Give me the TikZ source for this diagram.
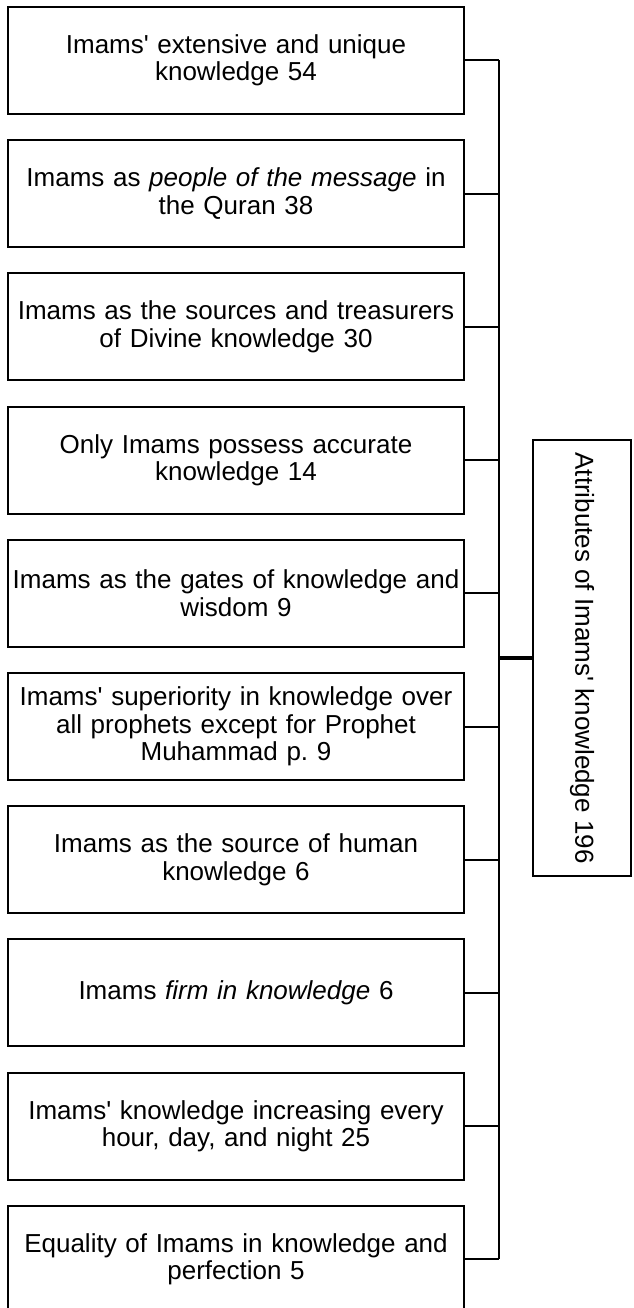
\documentclass[tikz,border=0pt]{standalone}
\usepackage{fontspec}
\newfontfamily\boxfont{Liberation Sans}
\begin{document}
\begin{tikzpicture}[x=1pt,y=-1pt,
  item/.style={draw=black, line width=2pt, minimum width=456pt, minimum height=107pt,
    text width=450pt, align=center, inner sep=0pt, anchor=north west,
    font=\boxfont\fontsize{26}{27.5}\selectfont},
  link/.style={draw=black, line width=2pt},
  mainlink/.style={draw=black, line width=3.2pt},
  rootbox/.style={draw=black, line width=2pt, rotate=-90, minimum width=436pt,
    minimum height=98pt, inner sep=0pt, font=\boxfont\fontsize{26}{27.5}\selectfont}]
\useasboundingbox (0,0) rectangle (633,1308);
\node[item] (b1) at (7,6) {Imams' extensive and unique\\knowledge 54};
\node[item] (b2) at (7,139.2) {Imams as \textit{people of the message} in\\the Quran 38};
\node[item] (b3) at (7,272.4) {Imams as the sources and treasurers\\of Divine knowledge 30};
\node[item] (b4) at (7,405.6) {Only Imams possess accurate\\knowledge 14};
\node[item] (b5) at (7,538.8) {Imams as the gates of knowledge and\\wisdom 9};
\node[item] (b6) at (7,672) {Imams' superiority in knowledge over\\all prophets except for Prophet\\Muhammad p.\ 9};
\node[item] (b7) at (7,805.2) {Imams as the source of human\\knowledge 6};
\node[item] (b8) at (7,938.4) {Imams \textit{firm in knowledge} 6};
\node[item] (b9) at (7,1071.6) {Imams' knowledge increasing every\\hour, day, and night 25};
\node[item] (b10) at (7,1204.8) {Equality of Imams in knowledge and\\perfection 5};
\node[rootbox] (root) at (582,658) {Attributes of Imams' knowledge 196};
\coordinate (bx) at (499,0);
\foreach \i in {1,...,10} {
  \coordinate (j\i) at (b\i.east -| bx);
  \draw[link] (b\i.east) -- (j\i);
}
\draw[link] (j1) -- (j10);
\coordinate (hub) at (root.south -| bx);
\draw[mainlink] (hub) -- (root.south);
\end{tikzpicture}
\end{document}
